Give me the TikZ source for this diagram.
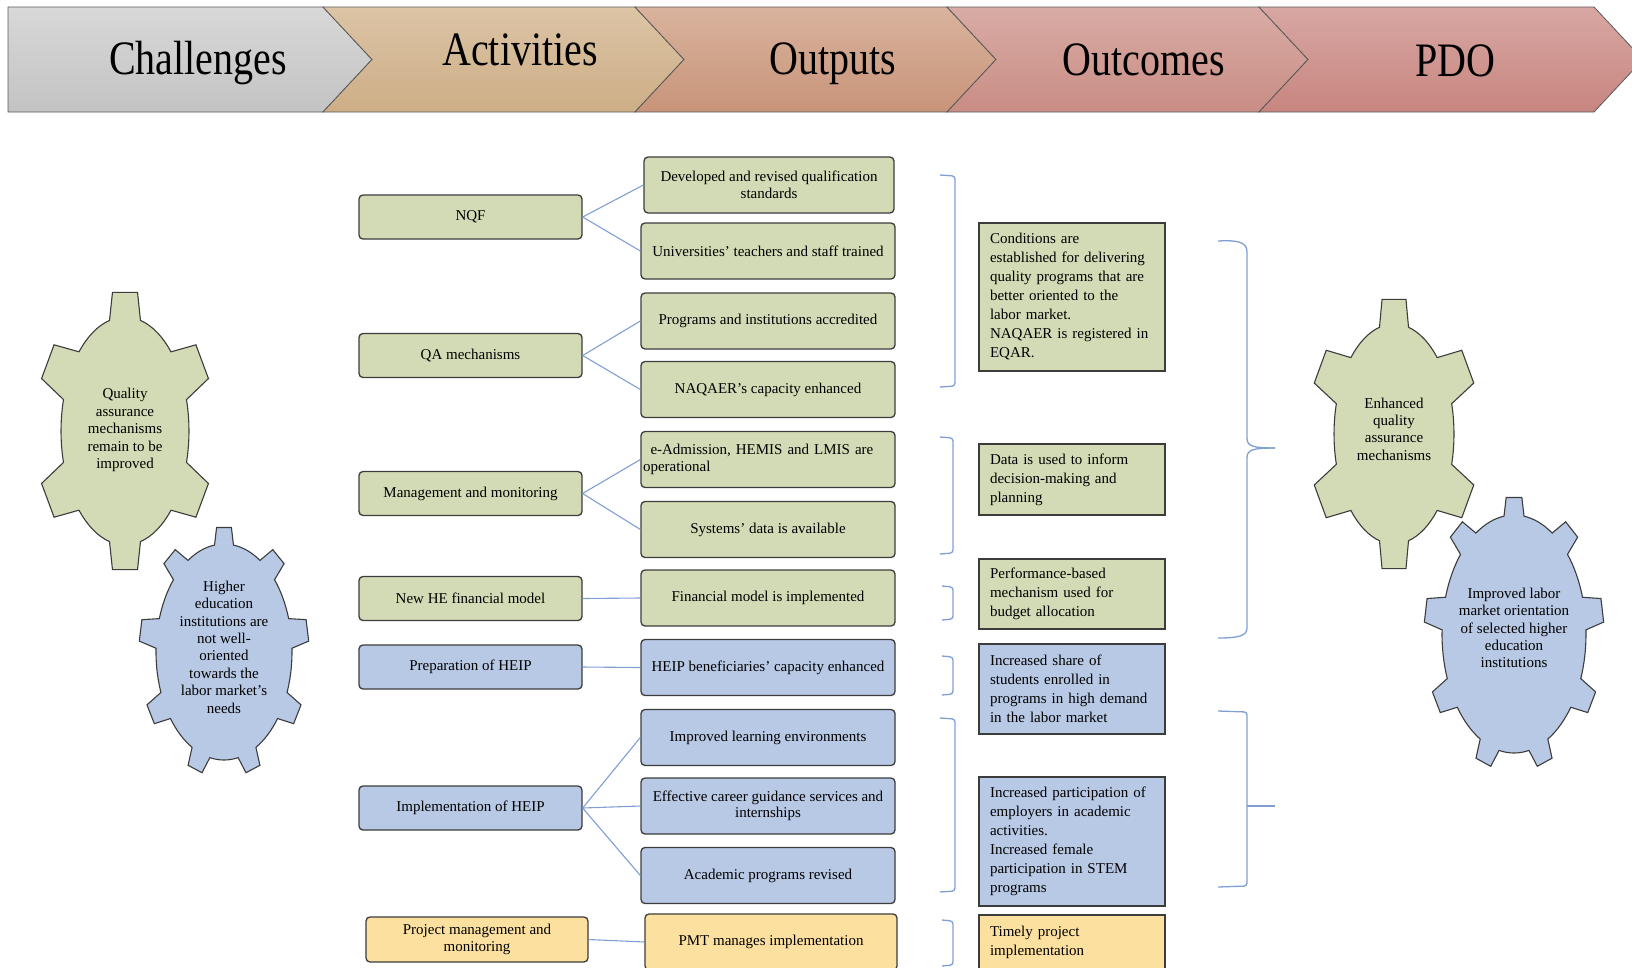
\documentclass[tikz,border=0pt]{standalone}
\usepackage{fontspec}
\setmainfont{Liberation Serif}
\definecolor{qgreen}{HTML}{D2DBB5}
\definecolor{hblue}{HTML}{B8C9E5}
\definecolor{pyellow}{HTML}{FBE0A0}
\definecolor{boxline}{HTML}{3C3C3C}
\definecolor{linkblue}{HTML}{7F9FD4}
\definecolor{hdrline}{HTML}{5A5A5A}
\tikzset{
  hdr/.style={draw=hdrline, line width=0.8pt},
  hdrtext/.style={font=\fontsize{40}{40}\selectfont, inner sep=0pt},
  actbox/.style={draw=boxline, line width=1.3pt, rounded corners=4pt,
    minimum width=223pt, minimum height=44pt, inner sep=2pt, align=center,
    font=\fontsize{15}{16.5}\selectfont},
  outbox/.style={actbox, minimum width=254pt, minimum height=56pt},
  resbox/.style={draw=boxline, line width=1.3pt, text width=164pt,
    inner xsep=11pt, inner ysep=3pt, align=left,
    font=\fontsize{15}{19}\selectfont},
  gearline/.style={draw=boxline, line width=1.1pt},
  geartext/.style={align=center, inner sep=0pt, font=\fontsize{15}{17.4}\selectfont},
  link/.style={draw=linkblue, line width=1.1pt},
  brk/.style={draw=linkblue, line width=1.3pt, rounded corners=3pt},
}
% cx, cy, rx, ry, depth, teeth, base half-width, top half-width, style
\newcommand{\gearshape}[9]{%
  \path[#9] ({#1+#3*cos(270-#7)},{#2+#4*sin(270-#7)})
    \foreach \k [evaluate=\k as \t using 270+(\k-1)*360/#6] in {1,...,#6}{
      -- ({#1+#3*cos(\t-#7)},{#2+#4*sin(\t-#7)})
      -- ({#1+(#3+#5)*cos(\t-#8)},{#2+(#4+#5)*sin(\t-#8)})
      -- ({#1+(#3+#5)*cos(\t+#8)},{#2+(#4+#5)*sin(\t+#8)})
      -- ({#1+#3*cos(\t+#7)},{#2+#4*sin(\t+#7)})
      \foreach \j in {1,...,7}{
        -- ({#1+#3*cos(\t+#7+\j*(360/#6-2*#7)/8)},{#2+#4*sin(\t+#7+\j*(360/#6-2*#7)/8)})
      }
    } -- cycle;
}
\begin{document}
\begin{tikzpicture}[x=1pt,y=-1pt]
\path[use as bounding box] (0,0) rectangle (1632,967);
\clip (0,0) rectangle (1632,967);

% header chevrons
\draw[hdr, top color={rgb,255:red,216;green,216;blue,216}, bottom color={rgb,255:red,195;green,195;blue,195}] (8,7) -- (323,7) -- (372,59.5) -- (323,112) -- (8,112) -- cycle;
\draw[hdr, top color={rgb,255:red,220;green,196;blue,165}, bottom color={rgb,255:red,205;green,174;blue,134}] (323,7) -- (635,7) -- (684,59.5) -- (635,112) -- (323,112) -- (372,59.5) -- cycle;
\draw[hdr, top color={rgb,255:red,217;green,179;blue,158}, bottom color={rgb,255:red,200;green,148;blue,121}] (635,7) -- (947,7) -- (996,59.5) -- (947,112) -- (635,112) -- (684,59.5) -- cycle;
\draw[hdr, top color={rgb,255:red,216;green,172;blue,165}, bottom color={rgb,255:red,201;green,141;blue,132}] (947,7) -- (1259,7) -- (1308,59.5) -- (1259,112) -- (947,112) -- (996,59.5) -- cycle;
\draw[hdr, top color={rgb,255:red,216;green,167;blue,163}, bottom color={rgb,255:red,200;green,133;blue,127}] (1259,7) -- (1594,7) -- (1643,59.5) -- (1594,112) -- (1259,112) -- (1308,59.5) -- cycle;
\node[hdrtext] (tch) at (198,63) {\scalebox{1}[1.2]{Challenges}};
\node[hdrtext] (tac) at (520,50) {\scalebox{1}[1.2]{Activities}};
\node[hdrtext] (tou) at (833,64) {\scalebox{1}[1.2]{Outputs}};
\node[hdrtext] (tin) at (1144,60) {\scalebox{1}[1.2]{Outcomes}};
\node[hdrtext] (tpd) at (1455,61) {\scalebox{1}[1.2]{PDO}};

% challenges and PDO gears
\gearshape{125}{431}{64}{114}{26}{6}{14}{8}{gearline, fill=qgreen}
\gearshape{224}{652}{68}{108}{17}{9}{8}{5}{gearline, fill=hblue}
\gearshape{1394}{434}{60}{110}{26}{6}{14}{8}{gearline, fill=qgreen}
\gearshape{1514}{634}{72}{119}{18}{9}{8}{5}{gearline, fill=hblue}
\node[geartext] (gq) at (125,430) {Quality\\assurance\\mechanisms\\remain to be\\improved};
\node[geartext] (gh) at (224,647) {Higher\\education\\institutions are\\not well-\\oriented\\towards the\\labor market’s\\needs};
\node[geartext] (ge) at (1394,429) {Enhanced\\quality\\assurance\\mechanisms};
\node[geartext] (gi) at (1514,628) {Improved labor\\market orientation\\of selected higher\\education\\institutions};

% activities
\node[actbox, fill=qgreen] (nqf) at (470.5,217) {NQF};
\node[actbox, fill=qgreen] (qa) at (470.5,355.5) {QA mechanisms};
\node[actbox, fill=qgreen] (mm) at (470.5,493.5) {Management and monitoring};
\node[actbox, fill=qgreen] (fin) at (470.5,598.5) {New HE financial model};
\node[actbox, fill=hblue] (prep) at (470.5,667) {Preparation of HEIP};
\node[actbox, fill=hblue] (impl) at (470.5,808) {Implementation of HEIP};
\node[actbox, fill=pyellow, minimum width=222pt, minimum height=45pt] (pmm) at (477,939.5) {Project management and\\monitoring};

% outputs
\node[outbox, fill=qgreen, minimum width=250pt] (dev) at (769,185) {Developed and revised qualification\\standards};
\node[outbox, fill=qgreen] (univ) at (768,251) {Universities’ teachers and staff trained};
\node[outbox, fill=qgreen] (prog) at (768,321) {Programs and institutions accredited};
\node[outbox, fill=qgreen] (naq) at (768,389.5) {NAQAER’s capacity enhanced};
\node[outbox, fill=qgreen, text width=250pt, inner xsep=2pt, align=left] (eadm) at (768,459.5) {\hspace{0.5em}e-Admission, HEMIS and LMIS are\\operational};
\node[outbox, fill=qgreen] (sysd) at (768,529.5) {Systems’ data is available};
\node[outbox, fill=qgreen] (finm) at (768,598) {Financial model is implemented};
\node[outbox, fill=hblue] (heipb) at (768,667.5) {HEIP beneficiaries’ capacity enhanced};
\node[outbox, fill=hblue] (ile) at (768,737.5) {Improved learning environments};
\node[outbox, fill=hblue] (ecg) at (768,806) {Effective career guidance services and\\internships};
\node[outbox, fill=hblue] (apr) at (768,875.5) {Academic programs revised};
\node[outbox, fill=pyellow, minimum width=252pt] (pmt) at (771,942) {PMT manages implementation};

% outcomes
\node[resbox, fill=qgreen, minimum height=148pt] (cond) at (1072,297) {Conditions are\\established for delivering\\quality programs that are\\better oriented to the\\labor market.\\NAQAER is registered in\\EQAR.};
\node[resbox, fill=qgreen, minimum height=71pt] (datau) at (1072,479.5) {Data is used to inform\\decision-making and\\planning};
\node[resbox, fill=qgreen, minimum height=70pt] (perf) at (1072,594) {Performance-based\\mechanism used for\\budget allocation};
\node[resbox, fill=hblue, minimum height=90pt] (share) at (1072,689) {Increased share of\\students enrolled in\\programs in high demand\\in the labor market};
\node[resbox, fill=hblue, minimum height=129pt] (part) at (1072,841.5) {Increased participation of\\employers in academic\\activities.\\Increased female\\participation in STEM\\programs};
\node[resbox, fill=pyellow, minimum height=55pt] (timely) at (1072,942.5) {Timely project\\implementation};

% connectors
\draw[link] (nqf.east) -- (dev.west);
\draw[link] (nqf.east) -- (univ.west);
\draw[link] (qa.east) -- (prog.west);
\draw[link] (qa.east) -- (naq.west);
\draw[link] (mm.east) -- (eadm.west);
\draw[link] (mm.east) -- (sysd.west);
\draw[link] (fin.east) -- (finm.west);
\draw[link] (prep.east) -- (heipb.west);
\draw[link] (impl.east) -- (ile.west);
\draw[link] (impl.east) -- (ecg.west);
\draw[link] (impl.east) -- (apr.west);
\draw[link] (pmm.east) -- (pmt.west);

% brackets outputs -> outcomes
\draw[brk] (940,175) -- (955,176) -- (955,386) -- (940,387);
\draw[brk] (940,437) -- (953,438) -- (953,553) -- (940,554);
\draw[brk] (942,586) -- (953,587) -- (953,619) -- (942,620);
\draw[brk] (942,656) -- (953,657) -- (953,694) -- (942,695);
\draw[brk] (940,718) -- (955,719) -- (955,891) -- (940,892);
\draw[brk] (942,920) -- (953,921) -- (953,965) -- (942,966);

% brackets outcomes -> PDO
\draw[link, line width=1.3pt] (1218,241) .. controls (1238,240) and (1247,242) .. (1247,252) -- (1247,438) .. controls (1247,446) and (1252,448) .. (1275,448);
\draw[link, line width=1.3pt] (1275,448) .. controls (1252,448) and (1247,450) .. (1247,458) -- (1247,628) .. controls (1247,636) and (1238,638) .. (1218,638);
\draw[brk] (1218,711) -- (1247,712) -- (1247,886) -- (1218,887);
\draw[link, line width=1.3pt] (1247,806) -- (1275,806);
\end{tikzpicture}
\end{document}
